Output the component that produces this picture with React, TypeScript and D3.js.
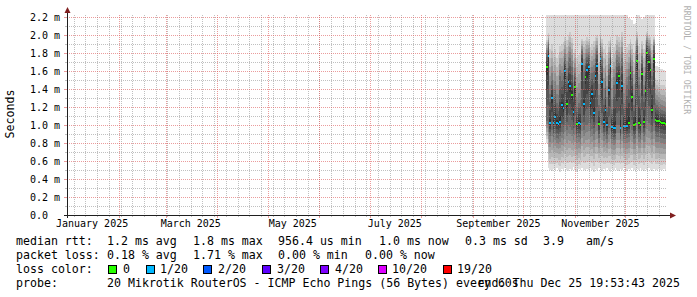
import React from "react";
import * as d3 from "d3";

const W = 697;
const H = 297;

// axis ticks
const yTickValues = [0, 0.2, 0.4, 0.6, 0.8, 1.0, 1.2, 1.4, 1.6, 1.8, 2.0, 2.2];
const yTickLabels = ["0.0", "0.2 m", "0.4 m", "0.6 m", "0.8 m", "1.0 m", "1.2 m", "1.4 m", "1.6 m", "1.8 m", "2.0 m", "2.2 m"];
const xLabelMonthIdx = [0, 2, 4, 6, 8, 10];
const xLabels = ["January 2025", "March 2025", "May 2025", "July 2025", "September 2025", "November 2025"];

// daily data (ms), starting Oct 14 2025 12:00, one value per day
const medV = [1.64, 1.77, 1.02, 1.30, 1.02, 1.09, 1.02, 1.01, 1.03, 1.22,
  1.19, 1.60, 1.23, 1.48, 1.43, 1.33, 1.14, 1.42, 1.01, 1.02,
  1.01, 1.68, 1.23, 1.53, 1.61, 1.64, 1.24, 1.34, 1.13, 1.55,
  1.66, 1.01, 1.73, 1.48, 1.03, 1.17, 1.00, 1.39, 1.66, 0.98,
  0.97, 0.97, 1.47, 1.54, 0.97, 1.43, 0.99, 0.99, 0.99, 1.02,
  1.58, 1.31, 1.00, 1.01, 1.71, 1.02, 1.00, 1.57, 1.03, 1.38,
  1.80, 1.70, 1.61, 1.17, 1.73, 1.06, 1.05, 1.04, 1.03, 1.02,
  1.02, 1.01];
const lossV = [0, 1, 1, 1, 1, 1, 1, 1, 1, 1,
  1, 1, 0, 1, 1, 0, 1, 0, 0, 1,
  1, 1, 1, 0, 1, 1, 1, 1, 1, 1,
  1, 0, 1, 1, 1, 1, 1, 1, 1, 1,
  1, 1, 1, 0, 1, 1, 1, 1, 1, 0,
  0, 0, 0, 0, 0, 0, 0, 0, 0, 0,
  0, 0, 0, 0, 0, 0, 0, 0, 0, 0,
  0, 0];
const minV = [0.80, 0.52, 0.50, 0.49, 0.51, 0.50, 0.52, 0.50, 0.48, 0.51,
  0.50, 0.52, 0.50, 0.49, 0.51, 0.50, 0.53, 0.50, 0.48, 0.51,
  0.50, 0.52, 0.50, 0.49, 0.51, 0.50, 0.52, 0.50, 0.48, 0.51,
  0.50, 0.52, 0.50, 0.49, 0.51, 0.50, 0.52, 0.50, 0.48, 0.51,
  0.50, 0.52, 0.50, 0.49, 0.51, 0.50, 0.52, 0.50, 0.49, 0.51,
  0.50, 0.52, 0.50, 0.48, 0.51, 0.50, 0.52, 0.50, 0.49, 0.51,
  0.50, 0.52, 0.50, 0.49, 0.51, 0.50, 0.50, 0.51, 0.50, 0.50,
  0.51, 0.50];
const loV = [1.05, 1.00, 0.88, 0.95, 0.87, 0.90, 0.86, 0.85, 0.88, 0.92,
  0.90, 1.00, 0.95, 1.00, 0.98, 0.95, 0.90, 0.97, 0.86, 0.87,
  0.85, 1.02, 0.95, 1.00, 1.00, 1.02, 0.93, 0.96, 0.90, 1.00,
  1.02, 0.86, 1.03, 1.00, 0.88, 0.92, 0.85, 0.97, 1.02, 0.84,
  0.83, 0.84, 1.00, 1.00, 0.84, 0.98, 0.85, 0.85, 0.86, 0.87,
  1.00, 0.95, 0.85, 0.86, 1.02, 0.87, 0.85, 1.00, 0.88, 0.97,
  1.05, 1.02, 1.00, 0.92, 1.02, 0.88, 0.87, 0.87, 0.86, 0.86,
  0.85, 0.85];
const hiV = [1.80, 1.90, 1.35, 1.50, 1.30, 1.40, 1.25, 1.22, 1.55, 1.50,
  1.55, 1.75, 1.55, 1.70, 1.75, 1.65, 1.40, 1.58, 1.20, 1.25,
  1.28, 1.82, 1.60, 1.70, 1.76, 1.78, 1.50, 1.58, 1.60, 1.75,
  1.82, 1.22, 1.88, 1.72, 1.30, 1.50, 1.20, 1.62, 1.80, 1.18,
  1.45, 1.50, 1.72, 1.70, 1.55, 1.75, 1.25, 1.28, 1.45, 1.55,
  1.75, 1.60, 1.22, 1.65, 1.88, 1.45, 1.25, 1.72, 1.35, 1.65,
  1.92, 1.85, 1.78, 1.55, 1.88, 1.25, 1.22, 1.20, 1.18, 1.17,
  1.16, 1.15];
const topV = [1.95, 2.02, 1.85, 1.90, 1.80, 1.85, 1.75, 1.78, 1.88, 1.90,
  1.92, 1.98, 1.95, 2.00, 2.03, 1.97, 1.80, 1.85, 1.75, 1.78,
  1.80, 1.96, 1.93, 1.95, 1.98, 1.96, 1.87, 1.90, 1.93, 1.98,
  2.00, 1.80, 2.02, 1.96, 1.85, 1.88, 1.78, 1.93, 1.98, 1.75,
  1.87, 1.90, 2.00, 1.98, 1.95, 2.03, 1.80, 1.85, 1.87, 1.90,
  1.96, 1.90, 1.80, 1.93, 2.03, 1.88, 1.80, 1.93, 1.85, 1.95,
  2.03, 2.00, 1.98, 1.90, 1.98, 1.52, 1.50, 1.48, 1.45, 1.45,
  1.44, 1.42];
const maxV = [2.40, 2.40, 2.40, 2.40, 2.40, 2.40, 2.40, 2.40, 2.40, 2.40,
  2.40, 2.40, 2.40, 2.40, 2.40, 2.40, 2.40, 2.40, 2.40, 2.40,
  2.40, 2.40, 2.40, 2.40, 2.40, 2.40, 2.40, 2.40, 2.40, 2.40,
  2.40, 2.40, 2.40, 2.40, 2.40, 2.40, 2.40, 2.40, 2.40, 2.40,
  2.40, 2.40, 2.40, 2.40, 2.40, 2.40, 2.40, 2.40, 2.40, 2.19,
  2.18, 2.17, 2.12, 2.13, 2.30, 2.25, 2.20, 2.18, 2.20, 2.40,
  2.40, 2.40, 2.40, 2.40, 2.25, 1.66, 1.66, 1.65, 1.62, 1.62,
  1.61, 1.60];

const lossLegend = [
  { label: "0", color: "#26ff00", bx: 108, tx: 123 },
  { label: "1/20", color: "#00b8ff", bx: 146, tx: 160 },
  { label: "2/20", color: "#0059ff", bx: 203, tx: 218 },
  { label: "3/20", color: "#5e00ff", bx: 262, tx: 277 },
  { label: "4/20", color: "#7e00ff", bx: 320, tx: 335 },
  { label: "10/20", color: "#dd00ff", bx: 378, tx: 392 },
  { label: "19/20", color: "#ff0000", bx: 443, tx: 457 },
];

function lossColor(l: number) {
  if (l <= 0) return "#26ff00";
  if (l <= 1) return "#00b8ff";
  if (l <= 2) return "#0059ff";
  if (l <= 3) return "#5e00ff";
  if (l <= 9) return "#7e00ff";
  if (l <= 18) return "#dd00ff";
  return "#ff0000";
}

// rank positions (of 20 sorted pings) for min, lo, median, hi, top, max
const RANKS = [1, 7, 10.5, 14, 19, 20];
function pingAt(vals: number[], r: number) {
  for (let j = 0; j < RANKS.length - 1; j++) {
    if (r <= RANKS[j + 1]) {
      const t = (r - RANKS[j]) / (RANKS[j + 1] - RANKS[j]);
      return vals[j] + t * (vals[j + 1] - vals[j]);
    }
  }
  return vals[vals.length - 1];
}

const MONO = "'DejaVu Sans Mono', monospace";

export default function App() {
  const start = new Date(2025, 0, 1);
  const end = new Date(2025, 11, 25, 19, 53, 43);
  const x = d3.scaleTime().domain([start, end]).range([67, 667]);
  const y = d3.scaleLinear().domain([0, 200 / 90]).range([215, 15]);
  const X0 = 67, X1 = 667, Y0 = 215, Y1 = 15;

  const firstBin = new Date(2025, 9, 14, 12);
  const days = medV.map((_, i) => d3.timeDay.offset(firstBin, i));

  const smoke: React.ReactNode[] = [];
  const medians: React.ReactNode[] = [];
  days.forEach((d, i) => {
    const xa = x(d);
    const xb = Math.min(x(d3.timeDay.offset(d, 1)), X1);
    const vals = [minV[i], loV[i], medV[i], hiV[i], topV[i], maxV[i]];
    for (let k = 1; k <= 10; k++) {
      const lo = pingAt(vals, k);
      const hi = pingAt(vals, 21 - k);
      const g = Math.floor((190 / 10) * (10 - k)) + 50;
      const c = `rgb(${g},${g},${g})`;
      smoke.push(
        <rect key={`s${i}-${k}`} x={xa} width={xb - xa} y={y(hi)} height={y(lo) - y(hi)} fill={c} />
      );
    }
    const ym = y(medV[i]);
    medians.push(
      <rect key={`m${i}`} x={xa} width={xb - xa} y={ym - 1} height={2} fill={lossColor(lossV[i])} />
    );
  });

  const weeks = d3.timeSunday.range(start, end);
  const months = d3.timeMonth.range(d3.timeMonth.offset(start, 1), end);
  const hMinor: number[] = [];
  const hMajor: number[] = [];
  for (let k = 1; k <= 22; k++) {
    (k % 2 === 0 ? hMajor : hMinor).push(k / 10);
  }
  const px = (v: number) => Math.round(v) + 0.5;
  const gridColor = "rgba(150,150,150,0.6)";
  const mgridColor = "rgba(222,90,90,0.6)";

  return (
    <svg width={W} height={H} style={{ position: "absolute", left: 0, top: 0, background: "#fff" }}
      fontFamily={MONO}>
      <rect x={0} y={0} width={W} height={H} fill="#ffffff" />
      <defs>
        <clipPath id="plot">
          <rect x={X0} y={Y1} width={X1 - X0} height={Y0 - Y1} />
        </clipPath>
      </defs>
      <g clipPath="url(#plot)" shapeRendering="crispEdges">
        {smoke}
        {medians}
      </g>
      {/* grid */}
      <g shapeRendering="crispEdges" strokeWidth={1} strokeDasharray="1 1">
        {hMinor.map((v) => (
          <line key={`hm${v}`} x1={X0} x2={X1} y1={px(y(v))} y2={px(y(v))} stroke={gridColor} />
        ))}
        {weeks.map((w) => (
          <line key={`vw${+w}`} x1={px(x(w))} x2={px(x(w))} y1={Y1} y2={Y0} stroke={gridColor} />
        ))}
        {hMajor.map((v) => (
          <line key={`hM${v}`} x1={X0} x2={X1} y1={px(y(v))} y2={px(y(v))} stroke={mgridColor} />
        ))}
        {months.map((m) => (
          <line key={`vM${+m}`} x1={px(x(m))} x2={px(x(m))} y1={Y1} y2={Y0} stroke={mgridColor} />
        ))}
      </g>
      {/* ticks */}
      <g shapeRendering="crispEdges">
        {hMinor.map((v) => (
          <line key={`tm${v}`} x1={X0 - 2} x2={X0} y1={px(y(v))} y2={px(y(v))} stroke={gridColor} />
        ))}
        {hMajor.map((v) => (
          <line key={`tM${v}`} x1={X0 - 3} x2={X0} y1={px(y(v))} y2={px(y(v))} stroke={mgridColor} />
        ))}
        {weeks.map((w) => (
          <line key={`tw${+w}`} x1={px(x(w))} x2={px(x(w))} y1={Y0} y2={Y0 + 2} stroke={gridColor} />
        ))}
        {months.map((m) => (
          <line key={`tMo${+m}`} x1={px(x(m))} x2={px(x(m))} y1={Y0} y2={Y0 + 3} stroke={mgridColor} />
        ))}
      </g>
      {/* axes */}
      <g shapeRendering="crispEdges">
        <line x1={X0 - 3} x2={X1 + 4} y1={Y0 + 0.5} y2={Y0 + 0.5} stroke="#1f1f1f" />
        <line x1={X0 + 0.5} x2={X0 + 0.5} y1={Y0 + 3} y2={Y1 - 3} stroke="#1f1f1f" />
      </g>
      <polygon points={`${X1 + 3},${Y0 - 2.5} ${X1 + 3},${Y0 + 3.5} ${X1 + 9},${Y0 + 0.5}`} fill="#801f1f" />
      <polygon points={`${X0 - 2.5},${Y1 - 2} ${X0 + 3.5},${Y1 - 2} ${X0 + 0.5},${Y1 - 8}`} fill="#801f1f" />
      {/* y labels */}
      <g fontSize={10} fill="#000">
        {yTickValues.map((v, i) => (
          <text key={`yl${i}`} x={30} y={y(v) + 3.7} style={{ whiteSpace: "pre" }}>{yTickLabels[i]}</text>
        ))}
      </g>
      {/* x labels */}
      <g fontSize={10} fill="#000" textAnchor="middle">
        {xLabelMonthIdx.map((mi, i) => (
          <text key={`xl${i}`} x={x(d3.timeDay.offset(new Date(2025, mi, 1), 15))} y={227}>{xLabels[i]}</text>
        ))}
      </g>
      {/* y title */}
      <text transform="translate(13.5,114) rotate(-90)" textAnchor="middle" fontSize={11.6} fill="#000">Seconds</text>
      {/* watermark */}
      <text transform="translate(684,60) rotate(90)" textAnchor="middle" fontSize={8.2} fill="#b0b0b0">RRDTOOL / TOBI OETIKER</text>
      {/* legend */}
      <g fontSize={11.6} fill="#000" style={{ whiteSpace: "pre" }}>
        <text x={16} y={245}>median rtt:</text>
        <text x={107} y={245}>1.2 ms avg</text>
        <text x={193} y={245}>1.8 ms max</text>
        <text x={278} y={245}>956.4 us min</text>
        <text x={379} y={245}>1.0 ms now</text>
        <text x={465} y={245}>0.3 ms sd</text>
        <text x={543} y={245}>3.9</text>
        <text x={586} y={245}>am/s</text>

        <text x={16} y={259}>packet loss:</text>
        <text x={107} y={259}>0.18 % avg</text>
        <text x={193} y={259}>1.71 % max</text>
        <text x={278} y={259}>0.00 % min</text>
        <text x={365} y={259}>0.00 % now</text>

        <text x={16} y={273}>loss color:</text>
        {lossLegend.map((l) => (
          <g key={l.label}>
            <rect x={l.bx + 0.5} y={265.5} width={8} height={8} fill={l.color} stroke="#000" strokeWidth={1} shapeRendering="crispEdges" />
            <text x={l.tx} y={273}>{l.label}</text>
          </g>
        ))}

        <text x={16} y={287}>probe:</text>
        <text x={107} y={287}>20 Mikrotik RouterOS - ICMP Echo Pings (56 Bytes) every 60s</text>
        <text x={680} y={287} textAnchor="end">end: Thu Dec 25 19:53:43 2025</text>
      </g>
    </svg>
  );
}
